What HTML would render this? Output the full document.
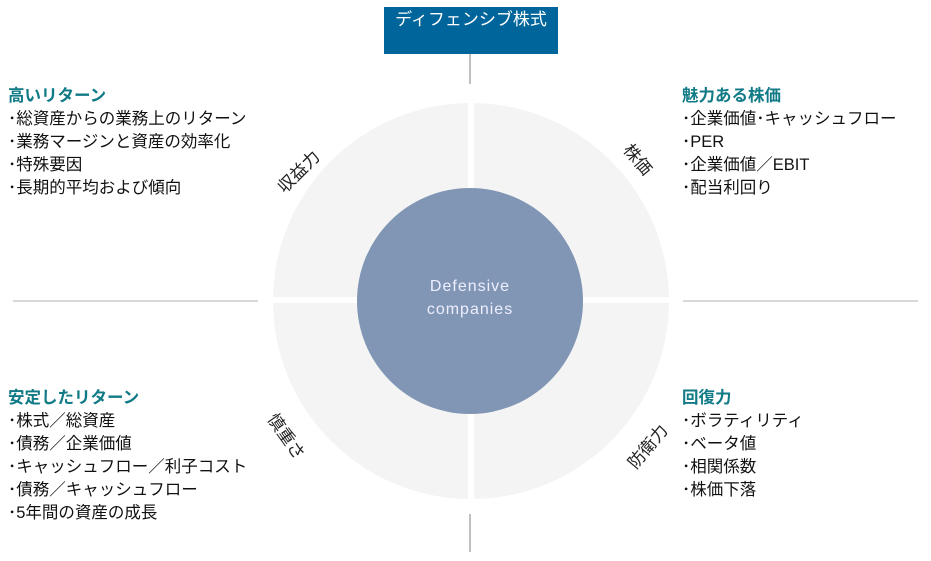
<!DOCTYPE html>
<html><head><meta charset="utf-8"><style>
body{margin:0;width:931px;height:561px;background:#fff;position:relative;overflow:hidden;font-family:"Liberation Sans","Noto Sans CJK JP",sans-serif;}
.t{position:absolute;font-size:16.5px;line-height:23px;color:#111;white-space:nowrap}
.t b{color:#117a87;font-weight:bold;display:block}
.r{position:absolute;font-size:17px;color:#222;white-space:nowrap;transform-origin:center}
</style></head><body>
<svg width="931" height="561" style="position:absolute;left:0;top:0">
<circle cx="471" cy="301" r="198" fill="#f4f4f4"/>
<rect x="468" y="100" width="6" height="402" fill="#fff"/>
<rect x="270" y="297" width="402" height="6" fill="#fff"/>
<circle cx="470" cy="301" r="113" fill="#8096b4"/>
<line x1="470" y1="53" x2="470" y2="84" stroke="#aaa" stroke-width="1.5"/>
<line x1="470" y1="514" x2="470" y2="552" stroke="#aaa" stroke-width="1.5"/>
<line x1="13" y1="301" x2="258" y2="301" stroke="#ccc" stroke-width="1.5"/>
<line x1="683" y1="301" x2="918" y2="301" stroke="#ccc" stroke-width="1.5"/>
<rect x="384" y="7" width="174" height="47" fill="#00659b"/>
<text x="471" y="25" fill="#fff" font-size="17" text-anchor="middle" font-family="Liberation Sans,Noto Sans CJK JP,sans-serif">ディフェンシブ株式</text>
<text x="470" y="291" fill="#eef" font-size="16" text-anchor="middle" letter-spacing="1" font-family="Liberation Sans,sans-serif">Defensive</text>
<text x="470" y="314" fill="#eef" font-size="16" text-anchor="middle" letter-spacing="1" font-family="Liberation Sans,sans-serif">companies</text>
</svg>
<div class="r" style="left:272px;top:158px;transform:rotate(-45deg)">収益力</div>
<div class="r" style="left:622px;top:146px;transform:rotate(50deg)">株価</div>
<div class="r" style="left:262px;top:423px;transform:rotate(55deg)">慎重さ</div>
<div class="r" style="left:621px;top:433px;transform:rotate(-50deg)">防衛力</div>
<div class="t" style="left:8px;top:85px"><b>高いリターン</b>･総資産からの業務上のリターン<br>･業務マージンと資産の効率化<br>･特殊要因<br>･長期的平均および傾向</div>
<div class="t" style="left:682px;top:85px"><b>魅力ある株価</b>･企業価値･キャッシュフロー<br>･PER<br>･企業価値／EBIT<br>･配当利回り</div>
<div class="t" style="left:8px;top:387px"><b>安定したリターン</b>･株式／総資産<br>･債務／企業価値<br>･キャッシュフロー／利子コスト<br>･債務／キャッシュフロー<br>･5年間の資産の成長</div>
<div class="t" style="left:682px;top:387px"><b>回復力</b>･ボラティリティ<br>･ベータ値<br>･相関係数<br>･株価下落</div>
</body></html>
